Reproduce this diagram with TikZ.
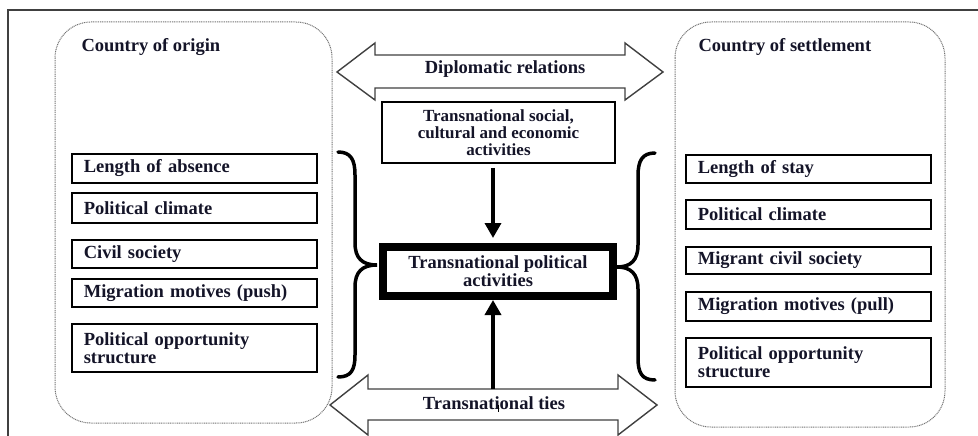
\documentclass[tikz,border=0pt]{standalone}
\usepackage{fontspec}
\setmainfont{Liberation Serif}
\usetikzlibrary{arrows.meta}
\definecolor{txt}{HTML}{141428}
\definecolor{framec}{HTML}{404040}
\tikzset{
  every node/.style={font=\bfseries\fontsize{18.5}{18}\selectfont, text=txt},
  sidebox/.style={draw=black, line width=1.6pt, anchor=north west, minimum width=245pt,
    text width=221pt, inner xsep=12pt, inner ysep=0pt, align=left},
  region/.style={draw=gray!90!black, line width=1pt, dash pattern=on 1pt off 0.8pt, rounded corners=36pt},
  dblarrow/.style={draw=framec, line width=1.4pt, fill=white, line join=miter},
  brace/.style={draw=black, line width=3.5pt, line cap=round},
  flow/.style={draw=black, line width=3.5pt, -{Triangle[width=16pt,length=15pt]}},
}
\begin{document}
\begin{tikzpicture}[x=1pt, y=-1pt]
\useasboundingbox (0,0) rectangle (978,436);
% frame (only left and top edges visible)
\draw[framec, line width=1.5pt] (8,436) -- (8,10) -- (978,10);

% regions
\draw[region] (55,22) rectangle (332,423);
\draw[region] (675,22) rectangle (945,427);
\node[anchor=west] (origin) at (78,47) {Country of origin};
\node[anchor=west] (settle) at (695,47) {Country of settlement};

% left factor boxes
\node[sidebox, minimum height=29pt] (l1) at (71,153) {Length of absence};
\node[sidebox, minimum height=30pt] (l2) at (71,192) {Political climate};
\node[sidebox, minimum height=28pt] (l3) at (71,239) {Civil society};
\node[sidebox, minimum height=28pt] (l4) at (71,278) {Migration motives (push)};
\node[sidebox, minimum height=48pt] (l5) at (71,323) {Political opportunity\\structure};

% right factor boxes
\node[sidebox, minimum height=28pt] (r1) at (685,154) {Length of stay};
\node[sidebox, minimum height=29pt] (r2) at (685,199) {Political climate};
\node[sidebox, minimum height=27pt] (r3) at (685,246) {Migrant civil society};
\node[sidebox, minimum height=29pt] (r4) at (685,291) {Migration motives (pull)};
\node[sidebox, minimum height=49pt] (r5) at (685,337) {Political opportunity\\structure};

% diplomatic relations double arrow
\draw[dblarrow] (337,72) -- (375,43) -- (375,55) -- (625,55) -- (625,43) -- (663,72)
  -- (625,100) -- (625,88) -- (375,88) -- (375,100) -- cycle;
\node (dipl) at (505,69) {Diplomatic relations};

% transnational ties double arrow
\draw[dblarrow] (330,405) -- (368,375) -- (368,389) -- (618,389) -- (618,375) -- (657,405)
  -- (618,435) -- (618,420) -- (368,420) -- (368,435) -- cycle;
\node (ties) at (494,403) {Transnational ties};
\coordinate (tiestop) at (493,389);

% center boxes
\node[draw=black, line width=1.6pt, minimum width=233pt, minimum height=61pt,
  align=center, font=\bfseries\fontsize{17}{16.7}\selectfont, inner sep=0pt]
  (soc) at (498.5,132.5) {Transnational social,\\cultural and economic\\activities};
\node[draw=black, line width=8pt, minimum width=230pt, minimum height=49pt,
  align=center, inner sep=0pt]
  (pol) at (498,271.5) {Transnational political\\activities};

% flows
\draw[flow] (soc.south -| 493,0) ++(0,4) -- (493,238);
\draw[flow] (tiestop) -- (493,300);
\draw[black, line width=1pt] (498,405) -- (498,412);

% braces
\draw[brace] (338,152) .. controls (351,152) and (355,160) .. (355,175) -- (355,243)
  .. controls (355,258) and (362,265) .. (377,265)
  .. controls (362,265) and (355,272) .. (355,287) -- (355,355)
  .. controls (355,370) and (351,377) .. (338,377);
\draw[brace] (655,153) .. controls (642,153) and (638,161) .. (638,176) -- (638,245)
  .. controls (638,260) and (631,267) .. (617,267)
  .. controls (631,267) and (638,274) .. (638,289) -- (638,358)
  .. controls (638,373) and (642,380) .. (655,380);
\end{tikzpicture}
\end{document}
